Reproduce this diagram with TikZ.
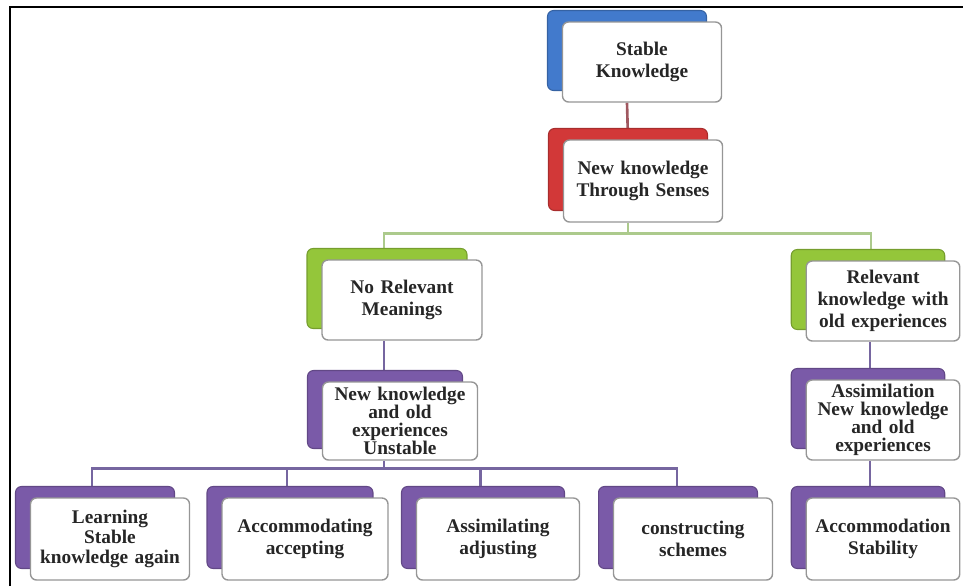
\documentclass[tikz,border=0pt]{standalone}
\usepackage{fontspec}
\setmainfont{Liberation Serif}
\usetikzlibrary{shadows,backgrounds}
\definecolor{blueback}{RGB}{66,122,204}
\definecolor{redback}{RGB}{210,56,56}
\definecolor{greenback}{RGB}{148,198,58}
\definecolor{purpleback}{RGB}{122,90,168}
\definecolor{boxline}{RGB}{150,150,150}
\definecolor{greenwire}{RGB}{172,202,140}
\definecolor{purplewire}{RGB}{118,102,160}
\definecolor{redwire}{RGB}{160,88,96}
\tikzset{
  card/.style={draw=boxline, fill=white, rounded corners=0.12cm, line width=0.8pt,
    minimum width=3.18cm, minimum height=1.6cm, text width=3.0cm, align=center,
    inner sep=1pt, text=black!85, font=\bfseries\fontsize{11}{12.5}\selectfont},
  tight/.style={font=\bfseries\fontsize{11}{10.2}\selectfont},
  backof/.style={general shadow={shadow xshift=-0.3cm, shadow yshift=0.23cm,
    fill=#1, draw=#1!80!black, line width=0.6pt}},
  wire/.style={line width=1.5pt, draw=#1},
}

\begin{document}
\begin{tikzpicture}[x=0.02cm, y=-0.02cm]
	\useasboundingbox (0,0) rectangle (963,586);
	
	% frame
	\draw[line width=1.2pt] (10,586) -- (10,7) -- (963,7);
	
	% top
	\node[card, backof=blueback] (stable) at (642,62) {Stable\\Knowledge};
	\node[card, backof=redback, minimum height=1.64cm] (senses) at (643,181) {New knowledge\\Through Senses};
	
	% second level
	\node[card, backof=greenback, minimum width=3.2cm] (norel) at (402,300) {No Relevant\\Meanings};
	\node[card, backof=greenback, minimum width=3.0cm] (rel) at (883,301) {Relevant\\knowledge with\\old experiences};
	
	% third level
	\node[card, tight, backof=purpleback, minimum width=3.1cm, minimum height=1.56cm] (unstable) at (400,421) {New knowledge\\and old\\experiences\\Unstable};
	\node[card, tight, backof=purpleback, minimum width=3.0cm] (assim) at (883,420) {Assimilation\\New knowledge\\and old\\experiences};
	
	% bottom row
	\node[card, backof=purpleback, minimum height=1.64cm, font=\bfseries\fontsize{11}{11.5}\selectfont] (learn) at (110,539) {Learning\\Stable\\knowledge again};
	\node[card, backof=purpleback, minimum height=1.64cm, minimum width=3.32cm] (accom) at (305,539) {Accommodating\\accepting};
	\node[card, backof=purpleback, minimum height=1.64cm, minimum width=3.26cm] (assimil) at (498,539) {Assimilating\\adjusting};
	\node[card, backof=purpleback, minimum height=1.64cm] (constr) at (693,539) {constructing\\schemes};
	\node[card, backof=purpleback, minimum height=1.64cm, minimum width=3.0cm] (stab) at (883,539) {Accommodation\\Stability};
	
	% connectors
	\begin{scope}[on background layer]
		\draw[wire=redwire] ([xshift=-0.3cm]stable.south) -- ([xshift=-0.3cm]senses.north);
		
		\draw[wire=greenwire] ([xshift=-0.3cm]senses.south) -- ++(0,11) coordinate (gbus);
		\draw[wire=greenwire] ([xshift=-0.36cm]norel.north) |- (gbus) -| ([xshift=-0.24cm]rel.north);
		
		\draw[wire=purplewire] ([xshift=-0.32cm]unstable.north) -- ([xshift=-0.32cm]unstable.north |- norel.south);
		\draw[wire=purplewire] ([xshift=-0.26cm]assim.north) -- ([xshift=-0.26cm]assim.north |- rel.south);
		\draw[wire=purplewire] ([xshift=-0.26cm]stab.north) -- ([xshift=-0.26cm]stab.north |- assim.south);
		
		\draw[wire=purplewire] ([xshift=-0.32cm]unstable.south) -- ++(0,8) coordinate (pbus);
		\draw[wire=purplewire] ([xshift=-0.36cm]learn.north) |- (pbus) -| ([xshift=-0.32cm]constr.north);
		\draw[wire=purplewire] ([xshift=-0.36cm]accom.north) -- ([xshift=-0.36cm]accom.north |- pbus);
		\draw[wire=purplewire] ([xshift=-0.35cm]assimil.north) -- ([xshift=-0.35cm]assimil.north |- pbus);
	\end{scope}
\end{tikzpicture}
\end{document}
